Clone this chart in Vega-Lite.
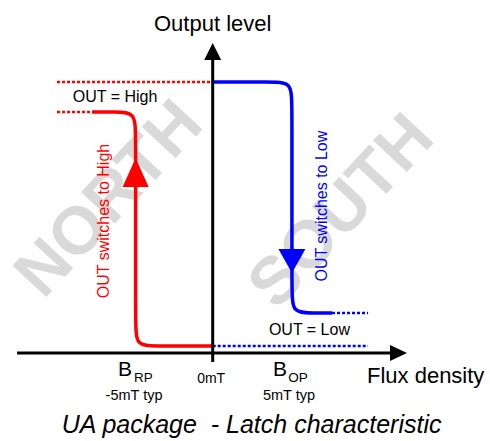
{
  "$schema": "https://vega.github.io/schema/vega-lite/v6.json",
  "width": 490,
  "height": 441,
  "autosize": {"type": "none"},
  "padding": 0,
  "background": "white",
  "config": {"view": {"stroke": null}, "text": {"font": "Liberation Sans"}},
  "layer": [
    {
      "data": {"values": [
        {"label": "NORTH", "x": -6.6, "y": 56.6},
        {"label": "SOUTH", "x": 8.3, "y": 52.0}
      ]},
      "mark": {"type": "text", "angle": 313, "fontSize": 67, "fontWeight": "bold", "color": "#d9d9d9", "align": "center", "baseline": "middle"},
      "encoding": {
        "x": {"field": "x", "type": "quantitative", "scale": {"domain": [-13.635, 17.776], "nice": false, "zero": false}, "axis": null},
        "y": {"field": "y", "type": "quantitative", "scale": {"domain": [-32.47, 130.26], "nice": false, "zero": false}, "axis": null},
        "text": {"field": "label"}
      }
    },
    {
      "data": {"values": [
        {"side": "north", "x": -9.98, "x2": 0, "y": 100},
        {"side": "north", "x": -9.98, "x2": -7.74, "y": 88.93},
        {"side": "south", "x": 0, "x2": 9.96, "y": 2.58},
        {"side": "south", "x": 7.65, "x2": 9.96, "y": 14.76}
      ]},
      "mark": {"type": "rule", "strokeWidth": 2.5, "strokeDash": [3, 2]},
      "encoding": {
        "x": {"field": "x", "type": "quantitative", "scale": {"domain": [-13.635, 17.776], "nice": false, "zero": false}, "axis": null},
        "x2": {"field": "x2"},
        "y": {"field": "y", "type": "quantitative", "scale": {"domain": [-32.47, 130.26], "nice": false, "zero": false}, "axis": null},
        "color": {"field": "side", "type": "nominal", "scale": {"domain": ["north", "south"], "range": ["#ff0000", "#0000ff"]}, "legend": null}
      }
    },
    {
      "data": {"values": [
        {"side": "north", "order": 1, "x": -7.74, "y": 88.93},
        {"side": "north", "order": 2, "x": -6.35, "y": 88.93},
        {"side": "north", "order": 3, "x": -4.94, "y": 88.93},
        {"side": "north", "order": 4, "x": -4.94, "y": 80.8},
        {"side": "north", "order": 5, "x": -4.94, "y": 10.7},
        {"side": "north", "order": 6, "x": -4.94, "y": 2.58},
        {"side": "north", "order": 7, "x": -3.53, "y": 2.58},
        {"side": "north", "order": 8, "x": 0, "y": 2.58},
        {"side": "south", "order": 1, "x": 0, "y": 100},
        {"side": "south", "order": 2, "x": 3.67, "y": 100},
        {"side": "south", "order": 3, "x": 5.08, "y": 100},
        {"side": "south", "order": 4, "x": 5.08, "y": 91.9},
        {"side": "south", "order": 5, "x": 5.08, "y": 22.9},
        {"side": "south", "order": 6, "x": 5.08, "y": 14.76},
        {"side": "south", "order": 7, "x": 6.49, "y": 14.76},
        {"side": "south", "order": 8, "x": 7.65, "y": 14.76}
      ]},
      "mark": {"type": "line", "interpolate": "basis", "strokeWidth": 3.5},
      "encoding": {
        "x": {"field": "x", "type": "quantitative", "scale": {"domain": [-13.635, 17.776], "nice": false, "zero": false}, "axis": null},
        "y": {"field": "y", "type": "quantitative", "scale": {"domain": [-32.47, 130.26], "nice": false, "zero": false}, "axis": null},
        "order": {"field": "order", "type": "quantitative"},
        "color": {"field": "side", "type": "nominal", "scale": {"domain": ["north", "south"], "range": ["#ff0000", "#0000ff"]}, "legend": null}
      }
    },
    {
      "data": {"values": [
        {"x": -12.54, "x2": 11.9, "y": 0, "y2": 0},
        {"x": 0, "x2": 0, "y": -3.32, "y2": 111}
      ]},
      "mark": {"type": "rule", "strokeWidth": 3, "color": "black"},
      "encoding": {
        "x": {"field": "x", "type": "quantitative", "scale": {"domain": [-13.635, 17.776], "nice": false, "zero": false}, "axis": null},
        "x2": {"field": "x2"},
        "y": {"field": "y", "type": "quantitative", "scale": {"domain": [-32.47, 130.26], "nice": false, "zero": false}, "axis": null},
        "y2": {"field": "y2"}
      }
    },
    {
      "data": {"values": [{"x": 11.91, "y": 0}]},
      "mark": {"type": "point", "filled": true, "opacity": 1, "color": "black", "shape": "M1,0L-1,-0.94L-1,0.94Z", "size": 289},
      "encoding": {
        "x": {"field": "x", "type": "quantitative", "scale": {"domain": [-13.635, 17.776], "nice": false, "zero": false}, "axis": null},
        "y": {"field": "y", "type": "quantitative", "scale": {"domain": [-32.47, 130.26], "nice": false, "zero": false}, "axis": null}
      }
    },
    {
      "data": {"values": [{"x": 0, "y": 111.25}]},
      "mark": {"type": "point", "filled": true, "opacity": 1, "color": "black", "shape": "M0,-1L1,1L-1,1Z", "size": 289},
      "encoding": {
        "x": {"field": "x", "type": "quantitative", "scale": {"domain": [-13.635, 17.776], "nice": false, "zero": false}, "axis": null},
        "y": {"field": "y", "type": "quantitative", "scale": {"domain": [-32.47, 130.26], "nice": false, "zero": false}, "axis": null}
      }
    },
    {
      "data": {"values": [{"x": -4.94, "y": 66.6}]},
      "mark": {"type": "point", "filled": true, "opacity": 1, "color": "#ff0000", "shape": "M0,-1L0.9,1L-0.9,1Z", "size": 841},
      "encoding": {
        "x": {"field": "x", "type": "quantitative", "scale": {"domain": [-13.635, 17.776], "nice": false, "zero": false}, "axis": null},
        "y": {"field": "y", "type": "quantitative", "scale": {"domain": [-32.47, 130.26], "nice": false, "zero": false}, "axis": null}
      }
    },
    {
      "data": {"values": [{"x": 5.08, "y": 33.95}]},
      "mark": {"type": "point", "filled": true, "opacity": 1, "color": "#0000ff", "shape": "M0,0.89L1,-0.89L-1,-0.89Z", "size": 729},
      "encoding": {
        "x": {"field": "x", "type": "quantitative", "scale": {"domain": [-13.635, 17.776], "nice": false, "zero": false}, "axis": null},
        "y": {"field": "y", "type": "quantitative", "scale": {"domain": [-32.47, 130.26], "nice": false, "zero": false}, "axis": null}
      }
    },
    {
      "data": {"values": [
        {"label": "Output level", "x": 0, "y": 118.8, "size": 22},
        {"label": "OUT = High", "x": -6.26, "y": 92.7, "size": 16},
        {"label": "OUT = Low", "x": 6.2, "y": 6.64, "size": 16},
        {"label": "-5mT typ", "x": -5.04, "y": -17.16, "size": 14.5},
        {"label": "0mT", "x": -0.1, "y": -10.9, "size": 14},
        {"label": "5mT typ", "x": 4.89, "y": -17.16, "size": 14.5}
      ]},
      "mark": {"type": "text", "color": "black", "align": "center", "baseline": "alphabetic"},
      "encoding": {
        "x": {"field": "x", "type": "quantitative", "scale": {"domain": [-13.635, 17.776], "nice": false, "zero": false}, "axis": null},
        "y": {"field": "y", "type": "quantitative", "scale": {"domain": [-32.47, 130.26], "nice": false, "zero": false}, "axis": null},
        "size": {"field": "size", "type": "quantitative", "scale": null, "legend": null},
        "text": {"field": "label"}
      }
    },
    {
      "data": {"values": [
        {"label": "Flux density", "x": 9.89, "y": -11.07, "size": 22},
        {"label": "B", "x": -6.07, "y": -8.49, "size": 21},
        {"label": "RP", "x": -5.05, "y": -10.6, "size": 13.5},
        {"label": "B", "x": 3.87, "y": -8.49, "size": 21},
        {"label": "OP", "x": 4.85, "y": -10.6, "size": 13.5}
      ]},
      "mark": {"type": "text", "color": "black", "align": "left", "baseline": "alphabetic"},
      "encoding": {
        "x": {"field": "x", "type": "quantitative", "scale": {"domain": [-13.635, 17.776], "nice": false, "zero": false}, "axis": null},
        "y": {"field": "y", "type": "quantitative", "scale": {"domain": [-32.47, 130.26], "nice": false, "zero": false}, "axis": null},
        "size": {"field": "size", "type": "quantitative", "scale": null, "legend": null},
        "text": {"field": "label"}
      }
    },
    {
      "data": {"values": [
        {"label": "OUT switches to High", "side": "north", "x": -6.62, "y": 48.7},
        {"label": "OUT switches to Low", "side": "south", "x": 7.33, "y": 54.2}
      ]},
      "mark": {"type": "text", "angle": 270, "fontSize": 16, "align": "center", "baseline": "alphabetic"},
      "encoding": {
        "x": {"field": "x", "type": "quantitative", "scale": {"domain": [-13.635, 17.776], "nice": false, "zero": false}, "axis": null},
        "y": {"field": "y", "type": "quantitative", "scale": {"domain": [-32.47, 130.26], "nice": false, "zero": false}, "axis": null},
        "color": {"field": "side", "type": "nominal", "scale": {"domain": ["north", "south"], "range": ["#ff0000", "#0000ff"]}, "legend": null},
        "text": {"field": "label"}
      }
    },
    {
      "data": {"values": [{"label": "UA package \u00a0- Latch characteristic", "x": 2.49, "y": -29.5}]},
      "mark": {"type": "text", "color": "black", "fontSize": 25, "fontStyle": "italic", "align": "center", "baseline": "alphabetic"},
      "encoding": {
        "x": {"field": "x", "type": "quantitative", "scale": {"domain": [-13.635, 17.776], "nice": false, "zero": false}, "axis": null},
        "y": {"field": "y", "type": "quantitative", "scale": {"domain": [-32.47, 130.26], "nice": false, "zero": false}, "axis": null},
        "text": {"field": "label"}
      }
    }
  ]
}
